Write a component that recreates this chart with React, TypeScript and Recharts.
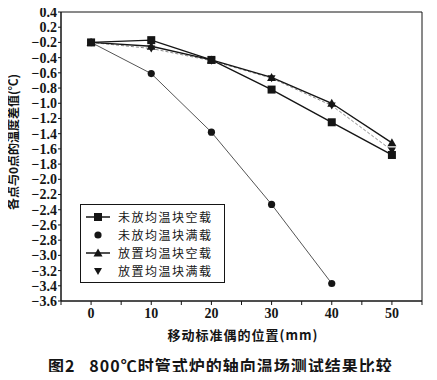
import { LineChart, Line, XAxis, YAxis, ReferenceArea } from 'recharts'

const positions = [0, 10, 20, 30, 40, 50]
const emptyNoBlock = [-0.2, -0.17, -0.43, -0.82, -1.25, -1.68]
const fullNoBlock = [-0.2, -0.61, -1.38, -2.33, -3.37, null]
const emptyBlock = [-0.2, -0.25, -0.43, -0.66, -1.0, -1.52]
const fullBlock = [-0.2, -0.28, -0.44, -0.67, -1.03, -1.62]
const seriesNames = ['未放均温块空载', '未放均温块满载', '放置均温块空载', '放置均温块满载']

const xTicks = [-5, 0, 5, 10, 15, 20, 25, 30, 35, 40, 45, 50, 55]
const yTicks = [
  0.2, 0, -0.2, -0.4, -0.6, -0.8, -1.0, -1.2, -1.4, -1.6, -1.8, -2.0, -2.2, -2.4, -2.6, -2.8,
  -3.0, -3.2, -3.4, -3.6,
]
const yTickLabels = [
  '0.4', '0.2', '−0.2', '−0.4', '−0.6', '−0.8', '−1.0', '−1.2', '−1.4', '−1.6', '−1.8', '−2.0',
  '−2.2', '−2.4', '−2.6', '−2.8', '−3.0', '−3.2', '−3.4', '−3.6',
]

const data = positions.map((x, i) => ({
  x,
  s1: emptyNoBlock[i],
  s2: fullNoBlock[i],
  s3: emptyBlock[i],
  s4: fullBlock[i],
}))

const serif = '"Liberation Serif", "DejaVu Serif", serif'
const cjk = '"Noto Sans CJK SC", sans-serif'
const ink = '#151515'

const Square = ({ cx, cy }: any) =>
  cx == null || cy == null ? null : <rect x={cx - 4} y={cy - 4} width={8} height={8} fill={ink} />
const Circle = ({ cx, cy }: any) =>
  cx == null || cy == null ? null : <circle cx={cx} cy={cy} r={3.6} fill={ink} />
const TriUp = ({ cx, cy }: any) =>
  cx == null || cy == null ? null : (
    <path d={`M${cx},${cy - 4.5}L${cx + 4.5},${cy + 3.5}L${cx - 4.5},${cy + 3.5}Z`} fill={ink} />
  )
const TriDown = ({ cx, cy }: any) =>
  cx == null || cy == null ? null : (
    <path d={`M${cx - 4},${cy - 3}L${cx + 4},${cy - 3}L${cx},${cy + 4}Z`} fill={ink} />
  )

const markers = [Square, Circle, TriUp, TriDown]
const legendLines = [true, false, true, false]

const Marker = ({ index }: { index: number }) => {
  const M = markers[index]
  return (
    <svg width={26} height={12} style={{ display: 'block', flex: 'none' }}>
      {legendLines[index] && <line x1={1} y1={6} x2={25} y2={6} stroke={ink} strokeWidth={1.5} />}
      <M cx={13} cy={6} />
    </svg>
  )
}

const yFormat = (v: number) => {
  const i = yTicks.findIndex((t) => Math.abs(t - v) < 1e-6)
  return i >= 0 ? yTickLabels[i] : ''
}
const xFormat = (v: number) => (v % 10 === 0 && v >= 0 && v <= 50 ? String(v) : '')

export default function App() {
  return (
    <div style={{ position: 'relative', width: 437, height: 380, margin: -8, background: '#fff' }}>
      <LineChart width={437} height={380} data={data} margin={{ top: 12, right: 15, left: 0, bottom: 0 }}>
        <XAxis
          dataKey="x"
          type="number"
          domain={[-5, 55]}
          ticks={xTicks}
          tickFormatter={xFormat}
          height={79}
          stroke={ink}
          tickSize={4}
          tickMargin={3}
          tick={{ fill: ink, fontSize: 14, fontFamily: serif, fontWeight: 'bold' }}
        />
        <YAxis
          type="number"
          domain={[-3.6, 0.2]}
          ticks={yTicks}
          tickFormatter={yFormat}
          width={61}
          stroke={ink}
          tickSize={3}
          tickMargin={1}
          interval={0}
          tick={{ fill: ink, fontSize: 14, fontFamily: serif, fontWeight: 'bold' }}
        />
        <ReferenceArea x1={-5} x2={55} y1={-3.6} y2={0.2} fill="none" stroke={ink} strokeWidth={1} />
        <Line dataKey="s4" stroke="#888" strokeWidth={1} strokeDasharray="3 2" dot={<TriDown />} isAnimationActive={false} />
        <Line dataKey="s2" stroke="#555" strokeWidth={1} dot={<Circle />} isAnimationActive={false} />
        <Line dataKey="s3" stroke={ink} strokeWidth={1.4} dot={<TriUp />} isAnimationActive={false} />
        <Line dataKey="s1" stroke={ink} strokeWidth={1.4} dot={<Square />} isAnimationActive={false} />
      </LineChart>

      <div
        style={{
          position: 'absolute',
          left: 80,
          top: 204,
          width: 145,
          height: 79,
          border: `1px solid ${ink}`,
          boxSizing: 'border-box',
          padding: '3px 0 0 4px',
          background: '#fff',
        }}
      >
        {seriesNames.map((name, i) => (
          <div key={name} style={{ display: 'flex', alignItems: 'center', height: 18 }}>
            <Marker index={i} />
            <span
              style={{
                marginLeft: 7,
                fontFamily: cjk,
                fontSize: 12,
                lineHeight: '14px',
                color: ink,
                letterSpacing: 1.5,
                whiteSpace: 'nowrap',
              }}
            >
              {name}
            </span>
          </div>
        ))}
      </div>

      <div
        style={{
          position: 'absolute',
          left: 13,
          top: 142,
          transform: 'translate(-50%, -50%) rotate(-90deg)',
          whiteSpace: 'nowrap',
          fontFamily: cjk,
          fontSize: 12,
          lineHeight: '14px',
          fontWeight: 'bold',
          color: ink,
        }}
      >
        各点与0点的温度差值(℃)
      </div>

      <div
        style={{
          position: 'absolute',
          left: 243,
          top: 335,
          transform: 'translate(-50%, -50%)',
          whiteSpace: 'nowrap',
          fontFamily: cjk,
          fontSize: 13,
          lineHeight: '16px',
          fontWeight: 'bold',
          color: ink,
          letterSpacing: 1,
        }}
      >
        移动标准偶的位置(mm)
      </div>

      <div
        style={{
          position: 'absolute',
          left: 48,
          top: 365,
          transform: 'translateY(-50%)',
          whiteSpace: 'nowrap',
          fontFamily: cjk,
          fontSize: 16,
          lineHeight: '18px',
          fontWeight: 'bold',
          color: ink,
          letterSpacing: 1,
        }}
      >
        图2&nbsp;&nbsp;&nbsp;800℃时管式炉的轴向温场测试结果比较
      </div>
    </div>
  )
}
